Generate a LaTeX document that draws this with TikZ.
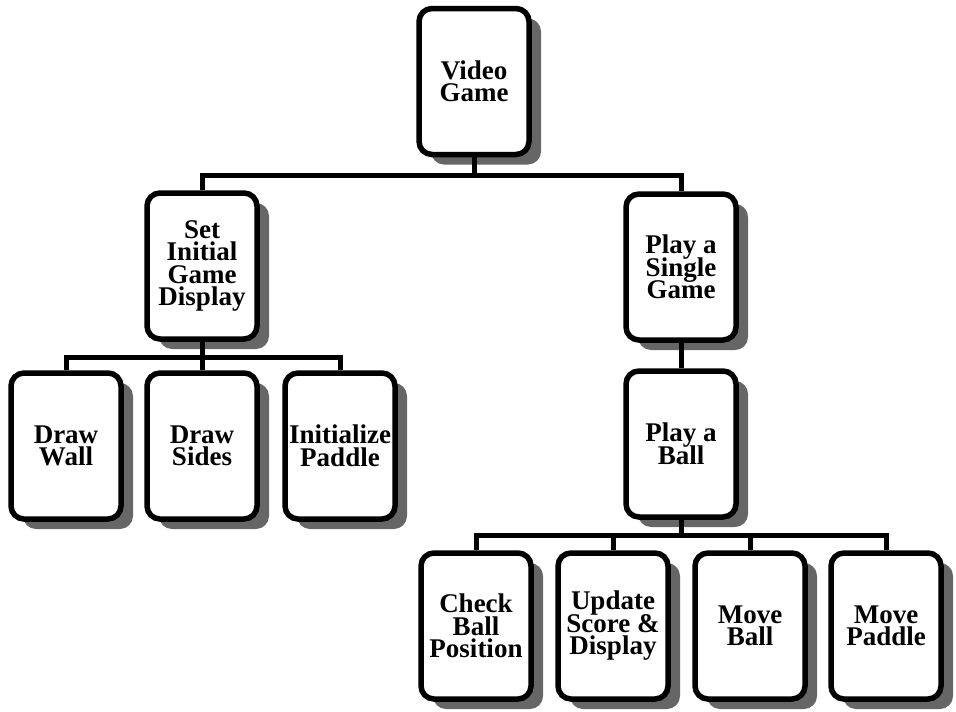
\documentclass[tikz,border=0pt]{standalone}
\usepackage{fontspec}
\setmainfont{Liberation Serif}
\usetikzlibrary{shadows}
\newcommand\myboxfont{\fontsize{27}{22.5}\selectfont\bfseries\lineskiplimit=-50pt\relax\lineskip=0pt\relax}
\begin{document}
\begin{tikzpicture}[x=1pt,y=-1pt,
  box/.style={draw, line width=5.5pt, rounded corners=13pt, fill=white,
    minimum width=110pt, minimum height=146pt, inner sep=0pt, align=center,
    font=\myboxfont,
    drop shadow={shadow xshift=12pt, shadow yshift=-10pt, fill=black!60, opacity=1}},
  conn/.style={line width=5pt}]
\useasboundingbox (0,0) rectangle (956,712);
\node[box] (vg) at (474,81.5) {Video\\Game};
\node[box] (sig) at (202,266) {Set\\Initial\\Game\\Display};
\node[box] (psg) at (681,267) {Play a\\Single\\Game};
\node[box] (dw) at (66,446) {Draw\\Wall};
\node[box] (ds) at (202,446) {Draw\\Sides};
\node[box] (ip) at (340,446) {Initialize\\Paddle};
\node[box] (pab) at (681,444) {Play a\\Ball};
\node[box] (cbp) at (476,626) {Check\\Ball\\Position};
\node[box] (usd) at (613,626) {Update\\Score \&\\Display};
\node[box] (mb) at (750,626) {Move\\Ball};
\node[box] (mp) at (886,626) {Move\\Paddle};
\coordinate (b1) at (441,175);
\coordinate (b2) at (200,357);
\coordinate (b3) at (681,535);
\draw[conn] (sig.north) |- (b1) -| (psg.north);
\draw[conn] (vg.south) -- (vg.south |- b1);
\draw[conn] (dw.north) |- (b2) -| (ip.north);
\draw[conn] (sig.south) -- (ds.north);
\draw[conn] (psg.south) -- (pab.north);
\draw[conn] (cbp.north) |- (b3) -| (mp.north);
\draw[conn] (pab.south) -- (b3);
\draw[conn] (usd.north) -- (usd.north |- b3);
\draw[conn] (mb.north) -- (mb.north |- b3);
\end{tikzpicture}
\end{document}
